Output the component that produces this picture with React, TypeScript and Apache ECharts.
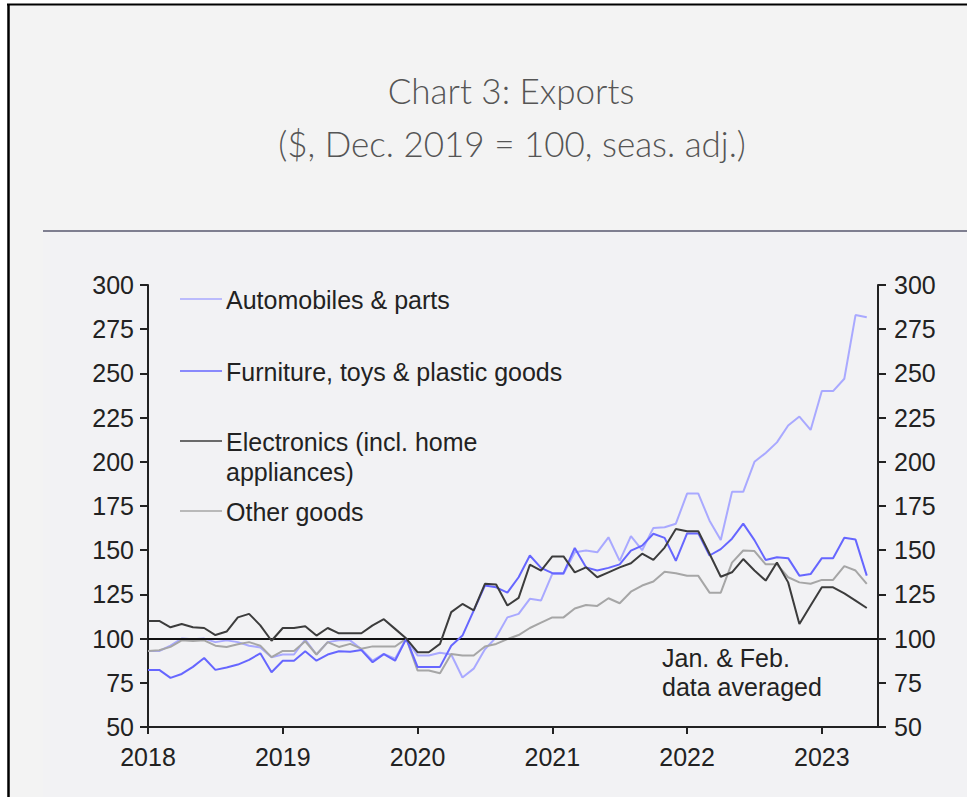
import React, { useEffect, useRef } from 'react';
import * as echarts from 'echarts';

const yearLabels = ['2018', '2019', '2020', '2021', '2022', '2023'];
const monthNames = ['Jan', 'Feb', 'Mar', 'Apr', 'May', 'Jun', 'Jul', 'Aug', 'Sep', 'Oct', 'Nov', 'Dec'];
// Jan 2018 .. Jun 2023 (last slot is empty space at the right of the plot)
const categories = yearLabels.flatMap((y) => monthNames.map((m) => `${m} ${y}`)).slice(0, 66);

const autos = [
  93, 93, 96, 100, 99.7, 100, 98, 99, 98, 96, 95, 89.5,
  91, 91, 99.5, 91, 98, 99, 99, 94, 87.5, 91.4, 88.6, 100,
  90.4, 90.4, 92, 91, 78, 83, 94, 100.7, 112, 114, 122.5, 121.6,
  136.6, 136.6, 148.8, 149.8, 148.8, 157.3, 144, 158, 150, 162.6, 163, 165,
  182, 182, 166.7, 155.8, 183, 183, 200, 205, 211, 220.5, 225.6, 218,
  240, 240, 247, 283, 281.7,
];

const furniture = [
  82.3, 82.3, 77.8, 80, 84, 89, 82.3, 83.7, 85.3, 88, 91.7, 81,
  87.5, 87.5, 92.8, 87.5, 91, 92.8, 92.5, 93.5, 86.6, 91.2, 87.5, 100,
  84, 84, 84, 96, 101.7, 115.8, 130, 129, 126, 134.7, 147, 140,
  137, 137, 151.3, 140.3, 138.5, 140, 142, 149.8, 152.6, 159.3, 157, 144,
  159.5, 159.5, 147, 150.6, 156.5, 165, 155.7, 144.5, 146, 145.5, 135.6, 136.5,
  145.5, 145.5, 157, 156, 135.6,
];

const electronics = [
  110, 110, 106.4, 108.3, 106.4, 106, 102, 104, 112, 114, 107.5, 98.8,
  106, 106, 107, 101.7, 106, 103, 103, 103, 107.5, 111, 105.5, 100,
  92.3, 92.3, 97, 115, 119.6, 116, 131, 130.6, 118.7, 123, 141.8, 138.5,
  146.5, 146.5, 137.5, 140.3, 134.7, 137.5, 140.3, 142.6, 148, 144.5, 151.5, 162,
  160.7, 160.7, 148, 135, 137.5, 145, 138.5, 132.8, 143, 131.8, 108.3, 118.7,
  129, 129, 125.6, 121.5, 117.3,
];

const otherGoods = [
  93, 93.4, 95.3, 99, 98.6, 99, 96, 95.3, 96.8, 98, 96, 89.5,
  93, 93, 98.5, 91, 98, 95.3, 97, 94.3, 95.6, 95.6, 95.5, 100,
  82, 82, 80.4, 91.3, 90.4, 90.4, 95.5, 97, 99.7, 102, 106, 109,
  112, 112, 117, 119, 118.5, 122.8, 120, 126.5, 130, 132.3, 137.8, 137,
  135.5, 135.5, 126, 126, 143, 149.8, 149.5, 142, 142, 134.7, 131.8, 131,
  133.2, 133.2, 141, 138.5, 131,
];

const seriesNames = [
  'Automobiles & parts',
  'Furniture, toys & plastic goods',
  'Electronics (incl. home\nappliances)',
  'Other goods',
];
const seriesColors = ['#a9a9ff', '#6666ff', '#3c3c3c', '#a6a6a6'];
const legendY = [299, 371, 441, 511];

const titleText = 'Chart 3: Exports';
const subtitleText = '($, Dec. 2019 = 100, seas. adj.)';
const noteText = 'Jan. & Feb.\ndata averaged';

const FONT = '"Liberation Sans", Arial, sans-serif';
const TITLE_FONT = '300 35px Lato, "Open Sans", sans-serif';

export default function App() {
  const ref = useRef<HTMLDivElement>(null);

  useEffect(() => {
    if (!ref.current) return;
    const chart = echarts.init(ref.current, null, { renderer: 'svg' });

    const dataSets = [autos, otherGoods, furniture, electronics];
    const colorOrder = [seriesColors[0], seriesColors[3], seriesColors[1], seriesColors[2]];
    const nameOrder = [seriesNames[0], seriesNames[3], seriesNames[1], seriesNames[2]];

    const legendGraphics: any[] = [];
    seriesNames.forEach((n, i) => {
      legendGraphics.push({
        type: 'line',
        shape: { x1: 180, y1: legendY[i], x2: 222, y2: legendY[i] },
        style: { stroke: seriesColors[i], lineWidth: 1.5 },
        z: 10,
      });
      legendGraphics.push({
        type: 'text',
        x: 226,
        y: legendY[i] - 14,
        style: {
          text: n,
          fill: '#222',
          font: `25px ${FONT}`,
          lineHeight: 30,
          align: 'left',
          verticalAlign: 'top',
        },
        z: 10,
      });
    });

    const yAxisCommon = {
      type: 'value',
      min: 50,
      max: 300,
      interval: 25,
      splitLine: { show: false },
      axisLine: { show: true, lineStyle: { color: '#222', width: 2 } },
      axisTick: { show: true, inside: false, length: 8, lineStyle: { color: '#222', width: 2 } },
      axisLabel: { color: '#222', fontSize: 25, fontFamily: FONT, margin: 14 },
    };

    chart.setOption({
      animation: false,
      backgroundColor: '#ffffff',
      graphic: [
        {
          type: 'rect',
          shape: { x: 8, y: 4, width: 959, height: 793 },
          style: { fill: '#f3f3f3' },
          z: -10,
          silent: true,
        },
        {
          type: 'rect',
          shape: { x: 43, y: 231, width: 924, height: 566 },
          style: { fill: '#f2f2f4' },
          z: -9,
          silent: true,
        },
        {
          type: 'line',
          shape: { x1: 7, y1: 4.5, x2: 967, y2: 4.5 },
          style: { stroke: '#000', lineWidth: 2 },
          z: 5,
        },
        {
          type: 'line',
          shape: { x1: 8.5, y1: 4, x2: 8.5, y2: 797 },
          style: { stroke: '#000', lineWidth: 2.5 },
          z: 5,
        },
        {
          type: 'line',
          shape: { x1: 43, y1: 231, x2: 967, y2: 231 },
          style: { stroke: '#7f7f90', lineWidth: 2 },
          z: 5,
        },
        {
          type: 'text',
          x: 511,
          y: 90,
          style: {
            text: titleText,
            fill: '#555',
            font: TITLE_FONT,
            align: 'center',
            verticalAlign: 'middle',
          },
        },
        {
          type: 'text',
          x: 512,
          y: 143,
          style: {
            text: subtitleText,
            fill: '#555',
            font: TITLE_FONT,
            align: 'center',
            verticalAlign: 'middle',
          },
        },
        {
          type: 'text',
          x: 662,
          y: 643,
          style: {
            text: noteText,
            fill: '#222',
            font: `25px ${FONT}`,
            lineHeight: 29,
            align: 'left',
            verticalAlign: 'top',
          },
          z: 10,
        },
        ...legendGraphics,
      ],
      grid: { left: 148, right: 89, top: 285, bottom: 70, containLabel: false },
      xAxis: {
        type: 'category',
        data: categories,
        boundaryGap: false,
        axisLine: { show: true, lineStyle: { color: '#222', width: 2 }, onZero: false },
        axisTick: {
          show: true,
          length: 7,
          interval: (i: number) => i % 12 === 0,
          lineStyle: { color: '#222', width: 2 },
        },
        axisLabel: {
          interval: (i: number) => i % 12 === 0,
          formatter: (v: string) => v.split(' ')[1],
          color: '#222',
          fontSize: 25,
          fontFamily: FONT,
          margin: 17,
        },
        splitLine: { show: false },
      },
      yAxis: [
        { ...yAxisCommon, position: 'left' },
        { ...yAxisCommon, position: 'right', axisLabel: { ...yAxisCommon.axisLabel, margin: 16 } },
      ],
      series: dataSets.map((d, i) => ({
        name: nameOrder[i],
        type: 'line',
        data: d,
        yAxisIndex: 0,
        showSymbol: false,
        symbol: 'none',
        lineStyle: { color: colorOrder[i], width: 2 },
        itemStyle: { color: colorOrder[i] },
        z: 3 + i,
        ...(i === 0
          ? {
              markLine: {
                silent: true,
                symbol: 'none',
                label: { show: false },
                lineStyle: { color: '#111', width: 2, type: 'solid' },
                data: [{ yAxis: 100 }],
              },
            }
          : {}),
      })),
    });

    return () => chart.dispose();
  }, []);

  return (
    <div
      ref={ref}
      style={{ position: 'fixed', left: 0, top: 0, width: 967, height: 797 }}
    />
  );
}
